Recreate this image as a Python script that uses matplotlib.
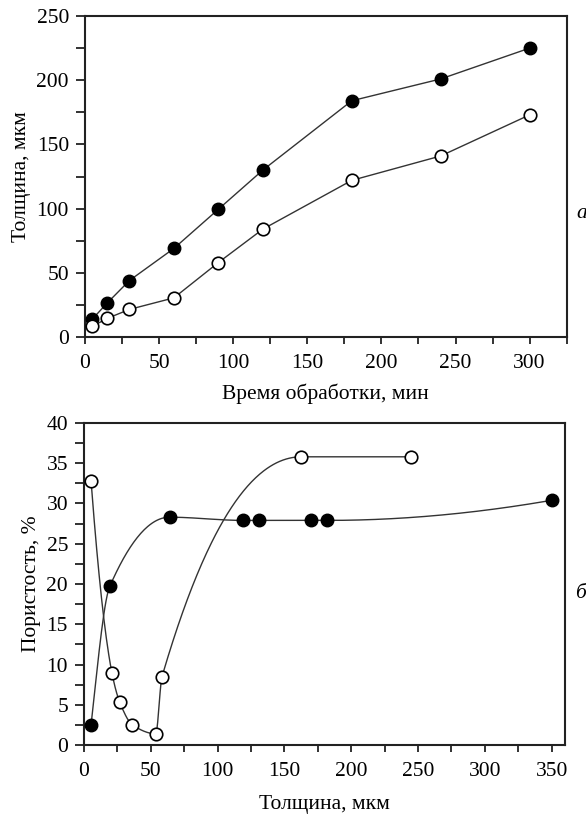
import numpy as np
import matplotlib
matplotlib.use('Agg')
import matplotlib.pyplot as plt
from matplotlib.ticker import MultipleLocator

# (а) толщина от времени обработки
time_min = [5, 15, 30, 60, 90, 120, 180, 240, 300]
thick_filled = [14, 26.5, 44, 69, 99.5, 130, 184, 201, 225]
thick_open = [8.3, 14.5, 21.5, 30.5, 58, 84, 122, 141, 173]

# (б) пористость от толщины
x_filled = [5.3, 19.3, 64, 119, 131, 170, 182, 350]
por_filled = [2.5, 19.7, 28.3, 27.9, 27.9, 27.9, 27.9, 30.4]
x_open = [5.3, 21, 26.6, 36.3, 53.7, 58.4, 162.7, 245]
por_open = [32.8, 8.9, 5.4, 2.5, 1.4, 8.5, 35.8, 35.8]


def pchip(x, y, n=400):
    """Гладкая монотонная кривая через точки (для линии на графике б)."""
    x = np.asarray(x, float)
    y = np.asarray(y, float)
    h = np.diff(x)
    d = np.diff(y) / h
    m = np.zeros_like(y)
    for k in range(1, len(x) - 1):
        if d[k - 1] * d[k] > 0:
            w1 = 2 * h[k] + h[k - 1]
            w2 = h[k] + 2 * h[k - 1]
            m[k] = (w1 + w2) / (w1 / d[k - 1] + w2 / d[k])
    m[0] = ((2 * h[0] + h[1]) * d[0] - h[0] * d[1]) / (h[0] + h[1])
    if np.sign(m[0]) != np.sign(d[0]):
        m[0] = 0
    m[-1] = ((2 * h[-1] + h[-2]) * d[-1] - h[-1] * d[-2]) / (h[-1] + h[-2])
    if np.sign(m[-1]) != np.sign(d[-1]):
        m[-1] = 0
    xs = np.linspace(x[0], x[-1], n)
    idx = np.clip(np.searchsorted(x, xs) - 1, 0, len(x) - 2)
    t = (xs - x[idx]) / h[idx]
    h00 = 2 * t**3 - 3 * t**2 + 1
    h10 = t**3 - 2 * t**2 + t
    h01 = -2 * t**3 + 3 * t**2
    h11 = t**3 - t**2
    ys = h00 * y[idx] + h10 * h[idx] * m[idx] + h01 * y[idx + 1] + h11 * h[idx] * m[idx + 1]
    return xs, ys


plt.rcParams['font.family'] = ['Liberation Serif', 'DejaVu Serif']
line_col = '#333333'
fs = 15.5

fig = plt.figure(figsize=(5.86, 8.18), dpi=100)
ax1 = fig.add_axes([0.145, 0.588, 0.822, 0.3924])
ax2 = fig.add_axes([0.1433, 0.0892, 0.821, 0.3937])

# --- а ---
ax1.plot(time_min, thick_filled, color=line_col, lw=1.0, marker='o', ms=9,
         mfc='black', mec='black', zorder=3)
ax1.plot(time_min, thick_open, color=line_col, lw=1.0, marker='o', ms=9,
         mfc='white', mec='black', mew=1.2, zorder=3)
ax1.set_xlim(0, 325)
ax1.set_ylim(0, 250)
ax1.xaxis.set_major_locator(MultipleLocator(50))
ax1.xaxis.set_minor_locator(MultipleLocator(25))
ax1.yaxis.set_major_locator(MultipleLocator(50))
ax1.yaxis.set_minor_locator(MultipleLocator(25))
ax1.set_xlabel('Время обработки, мин', fontsize=fs, labelpad=8)
ax1.set_ylabel('Толщина, мкм', fontsize=fs, labelpad=4)
ax1.text(1.02, 0.386, 'а', transform=ax1.transAxes, fontsize=fs,
         style='italic', ha='left', va='center')

# --- б ---
xs, ys = pchip(x_filled, por_filled)
ax2.plot(xs, ys, color=line_col, lw=1.0, zorder=2)
xs, ys = pchip(x_open, por_open)
ax2.plot(xs, ys, color=line_col, lw=1.0, zorder=2)
ax2.plot(x_filled, por_filled, ls='none', marker='o', ms=9,
         mfc='black', mec='black', zorder=3)
ax2.plot(x_open, por_open, ls='none', marker='o', ms=9,
         mfc='white', mec='black', mew=1.2, zorder=3)
ax2.set_xlim(0, 360)
ax2.set_ylim(0, 40)
ax2.xaxis.set_major_locator(MultipleLocator(50))
ax2.xaxis.set_minor_locator(MultipleLocator(25))
ax2.yaxis.set_major_locator(MultipleLocator(5))
ax2.yaxis.set_minor_locator(MultipleLocator(2.5))
ax2.set_xlabel('Толщина, мкм', fontsize=fs, labelpad=10)
ax2.set_ylabel('Пористость, %', fontsize=fs, labelpad=4)
ax2.text(1.02, 0.47, 'б', transform=ax2.transAxes, fontsize=fs,
         style='italic', ha='left', va='center')

for ax in (ax1, ax2):
    for sp in ax.spines.values():
        sp.set_linewidth(1.5)
        sp.set_color('#222222')
    ax.tick_params(which='both', direction='out', width=1.3,
                   color='#222222', labelsize=fs)
    ax.tick_params(axis='x', which='both', length=5, pad=7)
    ax.tick_params(axis='y', which='both', length=6.5, pad=5)

fig.savefig('out.png', dpi=100)
